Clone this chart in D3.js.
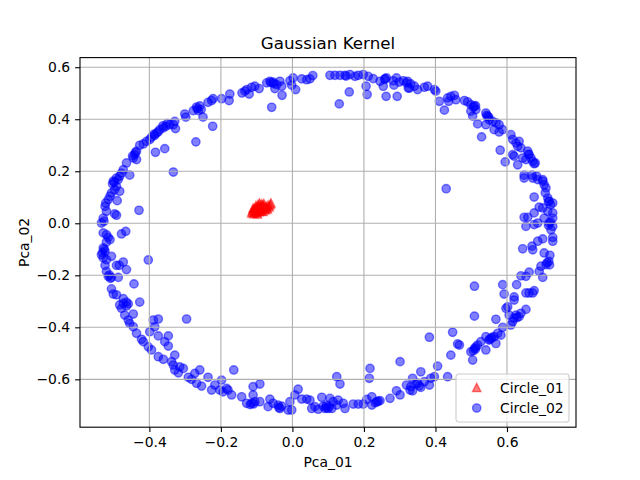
<!DOCTYPE html>
<html>
<head>
<meta charset="utf-8">
<script src="https://cdn.jsdelivr.net/npm/d3@7"></script>
<style>
  body { margin: 0; background: #fff; }
  svg { display: block; font-family: "DejaVu Sans", sans-serif; }
</style>
</head>
<body>
<div id="chart"></div>
<script>
// Circle_01: the red cluster (PCA of inner circle)
const circle01 = [
  [-0.112,0.048],[-0.108,0.055],[-0.104,0.060],[-0.100,0.052],[-0.098,0.064],[-0.095,0.058],
  [-0.092,0.050],[-0.090,0.068],[-0.088,0.061],[-0.085,0.055],[-0.083,0.070],[-0.080,0.064],
  [-0.078,0.058],[-0.076,0.052],[-0.074,0.066],[-0.072,0.060],[-0.106,0.044],[-0.100,0.042],
  [-0.094,0.045],[-0.088,0.047],[-0.082,0.046],[-0.096,0.072],[-0.086,0.074],[-0.068,0.070],
  [-0.065,0.063],[-0.070,0.055],[-0.110,0.058],[-0.102,0.068],[-0.092,0.078],[-0.080,0.076],
  [-0.060,0.078],[-0.062,0.072],[-0.114,0.040],[-0.108,0.037],[-0.098,0.036]
];

// Circle_02: the blue ring
const circle02 = [
  [-0.128,0.514],[-0.141,0.501],[-0.175,0.497],[-0.177,0.472],[-0.198,0.479],[-0.222,0.479],
  [-0.226,0.472],[-0.236,0.465],[-0.259,0.451],[-0.266,0.441],[-0.263,0.433],[-0.277,0.433],
  [-0.250,0.408],[-0.301,0.420],[-0.298,0.408],[-0.223,0.373],[-0.270,0.313],[-0.329,0.392],
  [-0.333,0.379],[-0.327,0.364],[-0.343,0.379],[-0.354,0.373],[-0.361,0.367],[-0.371,0.360],
  [-0.380,0.347],[-0.385,0.338],[-0.394,0.331],[-0.399,0.322],[-0.357,0.287],[-0.383,0.273],
  [-0.408,0.315],[-0.417,0.305],[-0.427,0.300],[-0.436,0.277],[-0.441,0.264],[-0.445,0.251],
  [-0.436,0.245],[-0.464,0.232],[-0.333,0.197],[-0.473,0.206],[-0.478,0.193],[-0.455,0.185],
  [-0.483,0.181],[-0.492,0.174],[-0.501,0.162],
  [-0.268,0.447],[-0.255,0.438],[-0.350,0.383],[-0.362,0.375],[-0.375,0.352],[-0.388,0.342],
  [-0.439,0.272],[-0.447,0.259],
  [-0.133,0.508],[-0.121,0.497],[-0.114,0.523],[-0.105,0.527],[-0.093,0.518],[-0.072,0.540],
  [-0.063,0.546],[-0.054,0.543],[-0.044,0.533],[-0.035,0.546],[-0.049,0.518],[-0.030,0.527],
  [-0.029,0.492],[-0.058,0.446],[-0.007,0.548],[0.002,0.559],[-0.002,0.531],[0.009,0.514],
  [0.026,0.555],[0.040,0.552],[0.049,0.555],[0.057,0.568],[0.105,0.569],[0.119,0.569],
  [0.133,0.569],[0.147,0.569],[0.161,0.572],[0.175,0.565],[0.184,0.569],[0.198,0.572],
  [0.212,0.565],[0.226,0.556],[0.159,0.505],[0.131,0.459],[0.206,0.527],[0.209,0.495],
  [0.245,0.546],[0.259,0.556],[0.254,0.527],[0.263,0.559],[0.262,0.488],[0.282,0.548],
  [0.291,0.559],[0.299,0.543],[0.310,0.548],[0.319,0.540],[0.324,0.520],[0.284,0.531],
  [0.293,0.488],[-0.060,0.541],[-0.052,0.537],[0.150,0.566],[0.258,0.553],
  [0.322,0.546],[0.331,0.536],[0.341,0.527],[0.327,0.520],[0.350,0.514],[0.369,0.523],
  [0.378,0.527],[0.397,0.514],[0.401,0.508],[0.411,0.469],[0.425,0.435],[0.434,0.482],
  [0.443,0.488],[0.453,0.492],[0.457,0.475],[0.437,0.469],[0.481,0.472],[0.490,0.467],
  [0.499,0.456],[0.509,0.450],[0.513,0.437],[0.499,0.431],[0.504,0.412],[0.518,0.382],
  [0.529,0.332],[0.541,0.424],[0.546,0.412],[0.550,0.398],[0.560,0.392],[0.541,0.379],
  [0.569,0.386],[0.578,0.379],[0.564,0.360],[0.578,0.351],[0.588,0.360],[0.581,0.281],
  [0.595,0.236],[0.611,0.341],[0.616,0.322],[0.625,0.309],[0.634,0.315],[0.630,0.296],
  [0.639,0.290],[0.616,0.264],[0.620,0.258],[0.630,0.225],[0.658,0.277],[0.662,0.264],
  [0.667,0.251],[0.672,0.238],[0.679,0.232],[0.653,0.245],[0.644,0.251],[0.648,0.185],
  [0.670,0.185],[0.683,0.181],[0.700,0.168],
  [0.506,0.447],[0.512,0.452],[0.543,0.415],[0.549,0.408],[0.660,0.266],[0.676,0.229],
  [0.648,0.174],[0.672,0.174],[0.686,0.168],[0.700,0.162],[0.704,0.148],[0.709,0.136],
  [0.707,0.117],[0.714,0.097],[0.718,0.085],[0.728,0.078],[0.676,0.101],[0.690,0.062],
  [0.676,0.040],[0.700,0.059],[0.714,0.046],[0.728,0.040],[0.704,0.020],[0.728,0.020],
  [0.648,0.023],[0.658,0.023],[0.686,0.001],[0.676,-0.005],[0.653,-0.012],[0.718,0.001],
  [0.728,-0.012],[0.723,-0.025],[0.728,-0.054],[0.728,-0.069],[0.700,-0.060],[0.686,-0.069],
  [0.670,-0.088],[0.672,-0.102],[0.644,-0.098],[0.704,-0.114],[0.720,-0.123],[0.717,-0.146],
  [0.709,-0.159],[0.695,-0.165],[0.690,-0.185],[0.700,-0.208],[0.662,-0.188],[0.653,-0.204],
  [0.639,-0.202],[0.588,-0.236],[0.627,-0.236],[0.509,-0.242],[0.592,-0.272],[0.620,-0.283],
  [0.653,-0.268],[0.662,-0.268],[0.676,-0.259],[0.672,-0.268],[0.430,0.133],
  [0.722,0.005],[0.716,-0.008],[0.712,-0.152],[0.719,-0.160],[0.722,0.072],[0.716,0.083],
  [-0.487,0.168],[-0.492,0.142],[-0.497,0.129],[-0.483,0.123],[-0.506,0.117],[-0.510,0.104],
  [-0.515,0.091],[-0.490,0.087],[-0.522,0.078],[-0.524,0.065],[-0.520,0.046],[-0.497,0.036],
  [-0.492,0.031],[-0.429,0.050],[-0.529,0.020],[-0.527,0.008],[-0.534,0.001],[-0.529,-0.037],
  [-0.520,-0.044],[-0.515,-0.054],[-0.510,-0.063],[-0.520,-0.072],[-0.478,-0.041],[-0.466,-0.031],
  [-0.529,-0.095],[-0.524,-0.108],[-0.534,-0.121],[-0.529,-0.133],[-0.520,-0.140],[-0.506,-0.127],
  [-0.403,-0.141],[-0.473,-0.149],[-0.484,-0.162],[-0.492,-0.162],[-0.464,-0.178],[-0.524,-0.162],
  [-0.520,-0.185],[-0.515,-0.204],[-0.506,-0.208],[-0.487,-0.208],[-0.443,-0.233],[-0.506,-0.252],
  [-0.501,-0.272],[-0.492,-0.275],[-0.473,-0.290],[-0.464,-0.303],[-0.427,-0.303],
  [-0.503,0.152],[-0.498,0.158],[-0.531,-0.113],[-0.526,-0.100],[-0.512,-0.199],[-0.509,-0.212],
  [-0.483,-0.314],[-0.473,-0.308],[-0.464,-0.318],[-0.459,-0.310],[-0.478,-0.327],[-0.469,-0.353],
  [-0.445,-0.349],[-0.459,-0.372],[-0.455,-0.385],[-0.445,-0.398],[-0.436,-0.423],[-0.422,-0.446],
  [-0.417,-0.455],[-0.403,-0.475],[-0.394,-0.487],[-0.399,-0.417],[-0.389,-0.372],[-0.375,-0.368],
  [-0.385,-0.398],[-0.296,-0.368],[-0.375,-0.433],[-0.347,-0.433],[-0.357,-0.455],[-0.347,-0.472],
  [-0.329,-0.507],[-0.375,-0.513],[-0.361,-0.523],[-0.338,-0.532],[-0.333,-0.545],[-0.315,-0.552],
  [-0.305,-0.558],[-0.329,-0.564],[-0.319,-0.575],[-0.291,-0.592],[-0.282,-0.600],[-0.273,-0.577],
  [-0.259,-0.564],[-0.268,-0.615],[-0.254,-0.626],[-0.236,-0.592],[-0.226,-0.641],[-0.217,-0.622],
  [-0.203,-0.641],[-0.198,-0.603],[-0.194,-0.648],[-0.184,-0.635],[-0.180,-0.641],[-0.170,-0.660],
  [-0.164,-0.564],[-0.142,-0.667],[-0.128,-0.692],
  [-0.114,-0.692],[-0.105,-0.686],[-0.091,-0.686],[-0.110,-0.660],[-0.110,-0.628],[-0.091,-0.618],
  [-0.068,-0.705],[-0.063,-0.676],[-0.054,-0.692],[-0.040,-0.699],[-0.035,-0.712],[-0.030,-0.703],
  [-0.012,-0.718],[-0.002,-0.718],[-0.007,-0.686],[0.007,-0.660],[0.016,-0.638],[0.026,-0.676],
  [0.040,-0.676],[0.049,-0.680],[0.054,-0.712],[0.063,-0.705],[0.072,-0.715],[0.082,-0.669],
  [0.091,-0.712],[0.100,-0.712],[0.105,-0.673],[0.114,-0.686],[0.110,-0.712],[0.124,-0.699],
  [0.128,-0.680],[0.142,-0.692],[0.147,-0.712],[0.124,-0.590],[0.133,-0.618],[0.170,-0.695],
  [0.184,-0.695],[0.198,-0.695],[0.208,-0.677],[0.222,-0.667],[0.222,-0.699],[0.236,-0.686],
  [0.245,-0.682],[0.273,-0.673],[0.291,-0.644],[0.301,-0.660],[0.217,-0.558],[0.215,-0.596],
  [0.301,-0.532],[0.319,-0.622],[0.329,-0.641],[0.086,-0.703],[0.095,-0.699],[0.103,-0.705],
  [-0.118,-0.697],[-0.108,-0.694],[-0.038,-0.708],[0.095,-0.708],[0.240,-0.684],[0.232,-0.690],
  [0.331,-0.628],[0.336,-0.644],[0.336,-0.596],[0.350,-0.615],[0.359,-0.571],[0.359,-0.631],
  [0.369,-0.609],[0.383,-0.622],[0.387,-0.596],[0.397,-0.590],[0.406,-0.549],[0.434,-0.590],
  [0.383,-0.438],[0.443,-0.507],[0.448,-0.419],[0.462,-0.464],[0.467,-0.468],[0.499,-0.494],
  [0.504,-0.526],[0.509,-0.481],[0.513,-0.475],[0.518,-0.468],[0.527,-0.455],[0.541,-0.436],
  [0.541,-0.487],[0.550,-0.449],[0.555,-0.442],[0.564,-0.436],[0.569,-0.462],[0.574,-0.423],
  [0.583,-0.430],[0.588,-0.400],[0.509,-0.357],[0.569,-0.369],[0.597,-0.327],[0.602,-0.321],
  [0.606,-0.353],[0.611,-0.391],[0.616,-0.378],[0.620,-0.365],[0.625,-0.353],[0.634,-0.359],
  [0.639,-0.346],[0.653,-0.331],[0.620,-0.295],
  [0.506,-0.490],[0.512,-0.484],[0.552,-0.446],[0.558,-0.439],[0.628,-0.362],[0.355,-0.625],
  [0.345,-0.618]
];

const xTicks = [-0.4, -0.2, 0.0, 0.2, 0.4, 0.6];
const yTicks = [-0.6, -0.4, -0.2, 0.0, 0.2, 0.4, 0.6];
const xLimits = [-0.594, 0.793];
const yLimits = [-0.784, 0.637];
const seriesNames = ["Circle_01", "Circle_02"];

const W = 640, H = 480;
const margin = { top: 57.6, right: 64, bottom: 52.8, left: 80 };
const width = W - margin.left - margin.right;
const height = H - margin.top - margin.bottom;

const svg = d3.select("#chart").append("svg")
    .attr("width", W)
    .attr("height", H);

const g = svg.append("g")
    .attr("transform", `translate(${margin.left},${margin.top})`);

const x = d3.scaleLinear().domain(xLimits).range([0, width]);
const y = d3.scaleLinear().domain(yLimits).range([height, 0]);
const fmt = d3.format(".1f");

// triangle like matplotlib '^'
const tri = "M0,-4.17L4.17,4.17L-4.17,4.17Z";

// Points
g.append("g").selectAll("path")
    .data(circle01)
    .enter()
    .append("path")
    .attr("d", tri)
    .attr("transform", d => `translate(${x(d[0])},${y(d[1])})`)
    .attr("fill", "red").attr("fill-opacity", 0.5)
    .attr("stroke", "red").attr("stroke-opacity", 0.5).attr("stroke-width", 1.4);

g.append("g").selectAll("circle")
    .data(circle02)
    .enter()
    .append("circle")
    .attr("cx", d => x(d[0]))
    .attr("cy", d => y(d[1]))
    .attr("r", 4.17)
    .attr("fill", "blue").attr("fill-opacity", 0.5)
    .attr("stroke", "blue").attr("stroke-opacity", 0.5).attr("stroke-width", 1.4);

// Grid (drawn over the points, as matplotlib does)
const grid = g.append("g").attr("stroke", "#b0b0b0").attr("stroke-width", 1.1);
grid.selectAll(".gx").data(xTicks).enter().append("line")
    .attr("x1", d => x(d)).attr("x2", d => x(d))
    .attr("y1", 0).attr("y2", height);
grid.selectAll(".gy").data(yTicks).enter().append("line")
    .attr("x1", 0).attr("x2", width)
    .attr("y1", d => y(d)).attr("y2", d => y(d));

// Axes
const xAxis = g.append("g")
    .attr("transform", `translate(0,${height})`)
    .call(d3.axisBottom(x).tickValues(xTicks).tickFormat(fmt).tickSize(4.9).tickPadding(4.9));
const yAxis = g.append("g")
    .call(d3.axisLeft(y).tickValues(yTicks).tickFormat(fmt).tickSize(4.9).tickPadding(4.9));

[xAxis, yAxis].forEach(a => {
    a.select(".domain").remove();
    a.selectAll("line").attr("stroke", "#000").attr("stroke-width", 1.1);
    a.selectAll("text").attr("fill", "#000")
        .style("font-size", "13.9px")
        .style("font-family", "DejaVu Sans");
});

// Spines
g.append("rect")
    .attr("width", width).attr("height", height)
    .attr("fill", "none").attr("stroke", "#000").attr("stroke-width", 1.1);

// Title and labels
svg.append("text")
    .attr("x", margin.left + width / 2).attr("y", 49)
    .attr("text-anchor", "middle")
    .style("font-size", "16.7px")
    .text("Gaussian Kernel");

svg.append("text")
    .attr("x", margin.left + width / 2).attr("y", 467)
    .attr("text-anchor", "middle")
    .style("font-size", "13.9px")
    .text("Pca_01");

svg.append("text")
    .attr("transform", `translate(29,${margin.top + height / 2}) rotate(-90)`)
    .attr("text-anchor", "middle")
    .style("font-size", "13.9px")
    .text("Pca_02");

// Legend
const legend = svg.append("g").attr("transform", "translate(456,374)");
legend.append("rect")
    .attr("width", 113).attr("height", 48)
    .attr("rx", 2.8).attr("ry", 2.8)
    .attr("fill", "#fff").attr("fill-opacity", 0.8)
    .attr("stroke", "#cccccc").attr("stroke-width", 1.1);

legend.append("path")
    .attr("d", tri)
    .attr("transform", "translate(20.7,13.5)")
    .attr("fill", "red").attr("fill-opacity", 0.5)
    .attr("stroke", "red").attr("stroke-opacity", 0.5).attr("stroke-width", 1.4);
legend.append("circle")
    .attr("cx", 20.7).attr("cy", 34)
    .attr("r", 4.17)
    .attr("fill", "blue").attr("fill-opacity", 0.5)
    .attr("stroke", "blue").attr("stroke-opacity", 0.5).attr("stroke-width", 1.4);

legend.selectAll(".lt")
    .data(seriesNames)
    .enter()
    .append("text")
    .attr("x", 44)
    .attr("y", (d, i) => 18.5 + i * 20.6)
    .style("font-size", "13.9px")
    .text(d => d);
</script>
</body>
</html>
